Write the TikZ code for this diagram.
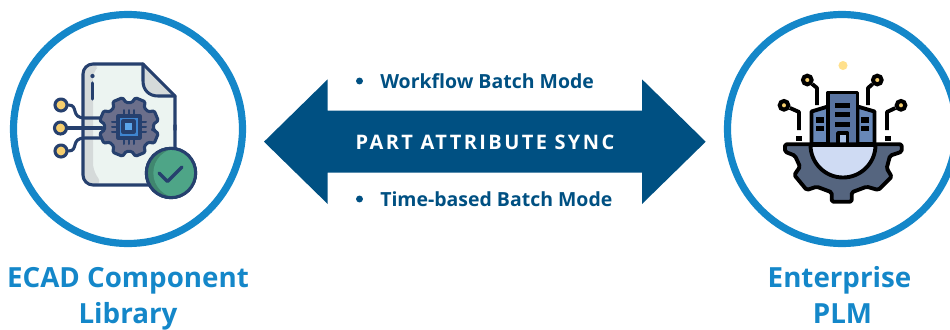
\documentclass[tikz,border=0pt]{standalone}
\usepackage{fontspec}
\setmainfont{Open Sans}
\usetikzlibrary{positioning}
\definecolor{ringblue}{HTML}{1487C9}
\definecolor{syncblue}{HTML}{005082}
\definecolor{inkblue}{HTML}{26406E}
\definecolor{paper}{HTML}{ECF4F1}
\definecolor{paperdark}{HTML}{D5DADA}
\definecolor{padyellow}{HTML}{F6CE6E}
\definecolor{cogpurple}{HTML}{6B6F8B}
\definecolor{chipblue}{HTML}{3F85D0}
\definecolor{chiplight}{HTML}{5AA5EA}
\definecolor{okgreen}{HTML}{4EA587}
\definecolor{okdark}{HTML}{40876F}
\definecolor{cogslate}{HTML}{55657F}
\definecolor{bowlblue}{HTML}{CFDBF3}
\definecolor{towerblue}{HTML}{5873A0}
\definecolor{wingblue}{HTML}{6888B8}
\definecolor{doorblue}{HTML}{A9C1E6}
\definecolor{lampyellow}{HTML}{FFE08C}
\tikzstyle{ring} = [draw=ringblue,line width=5.4pt,circle,inner sep=0,minimum size=171.75pt]
\tikzstyle{title} = [text=ringblue,anchor=base,inner sep=0,font=\fontsize{20.8}{24}\selectfont\bfseries]
\tikzstyle{mode} = [text=syncblue,anchor=base west,inner sep=0,font=\fontsize{14.6}{17}\selectfont\bfseries]
\tikzstyle{dot} = [fill=syncblue,circle,inner sep=0,minimum size=5.2pt]
\tikzstyle{ink} = [draw=inkblue,line width=2.3pt,line join=round,line cap=round]
\tikzstyle{pad} = [ink,fill=padyellow,circle,inner sep=0,minimum size=9pt]
\tikzstyle{tie} = [draw=black,line width=2.9pt,line join=round]
\tikzstyle{node pad} = [draw=black,line width=3pt,fill=padyellow,circle,inner sep=0,minimum size=6.5pt]
\begin{document}
\begin{tikzpicture}[x=0.75pt,y=-0.75pt]
      \path[use as bounding box,clip] (0,0) rectangle (950,329);
      % circles and titles
      \node[ring] (ecad) at (128,129) {};
      \node[ring] (plm) at (842,129) {};
      \node[title] (t1) at (128,287) {ECAD Component};
      \node[title] (t2) at (128,323) {Library};
      \node[title] (t3) at (839.5,287) {Enterprise};
      \node[title] (t4) at (842.5,323) {PLM};
      % double arrow
      \fill[syncblue] (264,141.7) -- (327.7,79.3) -- (327.7,110.7) -- (642,110.7) -- (642,79.3)
        -- (705.7,141.7) -- (642,204) -- (642,172.7) -- (327.7,172.7) -- (327.7,204) -- cycle;
      \node[text=white,inner sep=0,font=\fontsize{15}{18}\selectfont\bfseries] (sync) at (485,142)
        {\addfontfeatures{LetterSpace=12}PART ATTRIBUTE SYNC};
      \node[dot] (d1) at (359.5,81) {};
      \node[mode] (m1) at (380,88.3) {Workflow Batch Mode};
      \node[dot] (d2) at (359.5,199) {};
      \node[mode] (m2) at (380,206.3) {Time-based Batch Mode};
      % document
      \fill[paper,rounded corners=7.5pt] (83,64) -- (143,64) -- (175,96) [sharp corners] -- (175,185)
        [rounded corners=7.5pt] -- (83,185) -- cycle;
      \fill[paperdark,rounded corners=5pt] (84,65) -- (100,65) -- (93,72) -- (93,170) -- (102,184) -- (84,184) -- cycle;
      \fill[paperdark] (143,64) -- (175,96) -- (158,96) .. controls (149,96) and (143,90) .. (143,81) -- cycle;
      \draw[ink,rounded corners=7.5pt] (143,64) -- (83,64) -- (83,185) -- (175,185) -- (175,125);
      \draw[ink] (175,130) -- (175,96) -- (143,64);
      \draw[ink] (143,64) -- (143,81) .. controls (143,90) and (149,96) .. (158,96) -- (175,96);
      \fill[inkblue] (92.5,76) circle (1.6pt);
      \draw[ink] (92.5,83) -- (92.5,99);
      % wires
      \node[pad] (p1) at (61,105) {};
      \node[pad] (p2) at (60.5,128) {};
      \node[pad] (p3) at (61,151) {};
      \coordinate (w1) at (102,118);
      \coordinate (w2) at (102,128);
      \coordinate (w3) at (102,138);
      \draw[ink] (p1.east) .. controls (79,105) and (70,118) .. (85,118) -- (w1);
      \draw[ink] (p2) -- (w2);
      \draw[ink] (p3.east) .. controls (79,151) and (70,138) .. (85,138) -- (w3);
      % cog with chip
      \draw[ink,fill=cogpurple,rounded corners=1pt,shift={(129,127)}] (6.5:25)
        \foreach \a in {22.5,67.5,...,337.5} { -- (\a-16:24.5) -- (\a-10:30) -- (\a+10:30) -- (\a+16:24.5) } -- cycle;
      \foreach \p in {-5,0,5} {
        \draw[ink,line width=1.5pt] (129+\p,110) -- (129+\p,116);
        \draw[ink,line width=1.5pt] (129+\p,138) -- (129+\p,144);
        \draw[ink,line width=1.5pt] (112,127+\p) -- (118,127+\p);
        \draw[ink,line width=1.5pt] (140,127+\p) -- (146,127+\p);
      }
      \draw[ink,fill=chipblue] (118,116) rectangle (140,138);
      \draw[ink,fill=chiplight] (123,121) rectangle (134,132);
      % check badge
      \node[ink,fill=okgreen,circle,inner sep=0,minimum size=37pt] (ok) at (171,173) {};
      \begin{scope}
        \clip (171,173) circle (18pt);
        \fill[okdark] (171,173) circle (18.5pt);
        \fill[okgreen] (178,173) circle (18.5pt);
      \end{scope}
      \draw[ink] (171,173) circle (18.5pt);
      \draw[ink,line width=2.6pt] (159,173) -- (167.5,181.5) -- (182,167);
      % lamp
      \fill[lampyellow] (843,65.5) circle (3.4pt);
      % circuit lines
      \node[node pad] (c1) at (784,105.3) {};
      \node[node pad] (c2) at (807.3,80) {};
      \node[node pad] (c3) at (877.3,80) {};
      \node[node pad] (c4) at (901,105.3) {};
      \coordinate (e1) at (799,130);
      \coordinate (e2) at (817,105);
      \coordinate (e3) at (868,105);
      \coordinate (e4) at (887,130);
      \draw[tie] (c1) -- (799,112) -- (e1);
      \draw[tie] (c2) -- (817,88) -- (e2);
      \draw[tie] (c3) -- (868,88) -- (e3);
      \draw[tie] (c4) -- (887,112) -- (e4);
      \fill[black] (796,136) rectangle (801.5,141);
      \fill[black] (885,136) rectangle (890.5,141);
      % buildings
      \draw[tie,fill=wingblue] (811.5,144) -- (811.5,111.5) -- (828,106.5) -- (828,144) -- cycle;
      \draw[tie,fill=wingblue] (874.5,144) -- (874.5,111.5) -- (857.5,106.5) -- (857.5,144) -- cycle;
      \draw[tie,fill=towerblue] (828,144) -- (828,92.5) -- (857.5,92.5) -- (857.5,144);
      \foreach \y in {103,112,121.7} \fill[black] (835,\y) rectangle (850,\y+5.4);
      \foreach \x in {816,861} {
        \fill[black] (\x,117.3) rectangle (\x+8,122.6);
        \fill[black] (\x,125.7) rectangle (\x+8,131);
      }
      \draw[tie,fill=doorblue] (838,144) -- (838,133) -- (847.5,133) -- (847.5,144);
      % half cog
      \draw[tie,fill=cogslate,rounded corners=1.2pt] (785,144.3) -- (785,151.7) -- (795,155.7) -- (800,166.7)
        -- (794.3,175) -- (806.7,190) -- (816.7,186.7) -- (831.7,192.3) -- (831.7,201.7) -- (851.7,201.7)
        -- (851.7,192.3) -- (866.7,186.7) -- (878.3,190) -- (891.7,176.7) -- (886.7,168.3) -- (890,155.7)
        -- (901.7,151.7) -- (901.7,144.3) -- cycle;
      \draw[tie,fill=bowlblue] (810.5,145) arc[start angle=180,end angle=0,radius=32.5] -- cycle;
    \end{tikzpicture}
\end{document}
